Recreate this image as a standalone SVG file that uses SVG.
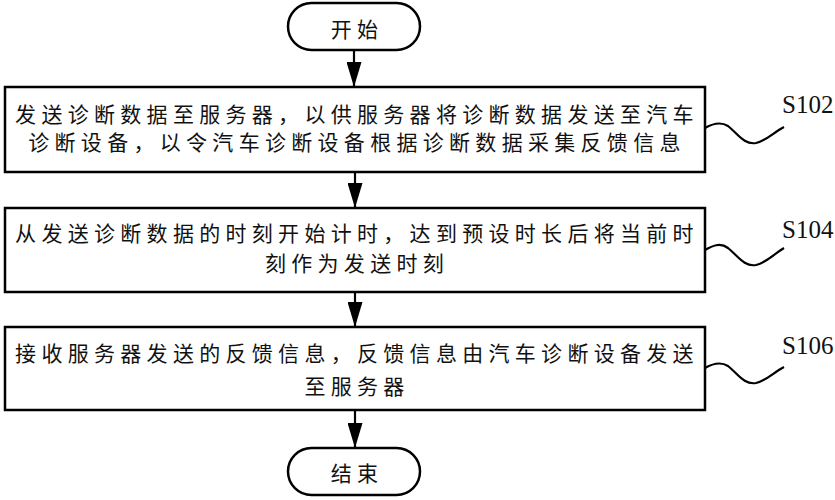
<svg xmlns="http://www.w3.org/2000/svg" width="835" height="500" viewBox="0 0 835 500">
<style>
.box{fill:#fff;stroke:#000;stroke-width:2.5}
.t{font-family:"Noto Sans CJK SC","Noto Sans",sans-serif;font-size:21px;letter-spacing:5.3px;text-anchor:middle;dominant-baseline:central;fill:#111}
.lbl{font-family:"Liberation Serif",serif;font-size:25px;fill:#111}
.ln{fill:none;stroke:#000;stroke-width:2.2}
.wave{fill:none;stroke:#000;stroke-width:2.2}
</style>
<defs>
<marker id="ah" markerWidth="25" markerHeight="15" refX="25" refY="7.5" orient="auto" markerUnits="userSpaceOnUse" viewBox="0 0 25 15">
<path d="M0,0 L25,7.5 L0,15 Z" fill="#000"/>
</marker>
</defs>
<g id="connectors">
<line class="ln" x1="354" y1="50" x2="354" y2="87" marker-end="url(#ah)"/>
<line class="ln" x1="355" y1="172" x2="355" y2="208" marker-end="url(#ah)"/>
<line class="ln" x1="355" y1="292" x2="355" y2="327" marker-end="url(#ah)"/>
<line class="ln" x1="355" y1="410" x2="355" y2="448" marker-end="url(#ah)"/>
<path class="wave" d="M705,128 C712,124 720,121 728,126 C738,134 744,145 756,143 C766,141 774,132 784,127"/>
<path class="wave" d="M705,250 C712,246 720,242 728,248 C738,256 744,267 756,265 C766,263 774,254 784,248"/>
<path class="wave" d="M705,368 C712,364 720,361 728,366 C738,374 744,385 756,383 C766,381 774,372 784,367"/>
</g>
<g id="start">
<rect class="box" x="288" y="3" width="132" height="47" rx="23.5"/>
<text class="t" x="357" y="28">开始</text>
</g>
<g id="s102">
<rect class="box" x="5" y="87" width="700" height="85"/>
<text class="t" x="357" y="113">发送诊断数据至服务器，以供服务器将诊断数据发送至汽车</text>
<text class="t" x="357" y="141">诊断设备，以令汽车诊断设备根据诊断数据采集反馈信息</text>
<text class="lbl" x="782" y="113">S102</text>
</g>
<g id="s104">
<rect class="box" x="5" y="208" width="700" height="84"/>
<text class="t" x="357" y="232">从发送诊断数据的时刻开始计时，达到预设时长后将当前时</text>
<text class="t" x="357" y="262">刻作为发送时刻</text>
<text class="lbl" x="782" y="238">S104</text>
</g>
<g id="s106">
<rect class="box" x="5" y="327" width="700" height="83"/>
<text class="t" x="357" y="352">接收服务器发送的反馈信息，反馈信息由汽车诊断设备发送</text>
<text class="t" x="357" y="385">至服务器</text>
<text class="lbl" x="782" y="354">S106</text>
</g>
<g id="end">
<rect class="box" x="288" y="448" width="132" height="47" rx="23.5"/>
<text class="t" x="357" y="472">结束</text>
</g>
</svg>
